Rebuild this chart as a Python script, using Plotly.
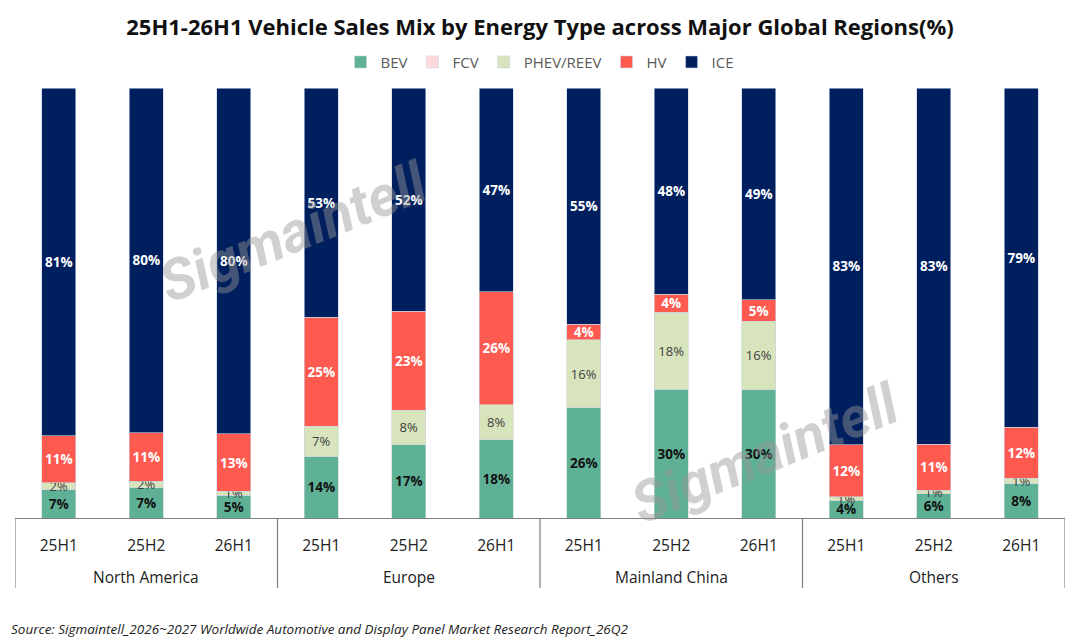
import plotly.graph_objects as go

# categories
regions = ["North America", "Europe", "Mainland China", "Others"]
periods = ["25H1", "25H2", "26H1"]

# share of sales (%) per region/period, in the order NA, Europe, China, Others
bev = [6.6, 7.0, 5.3, 14.3, 17.0, 18.2, 25.6, 30.0, 29.8, 4.0, 5.6, 8.0]
fcv = [0.0, 0.0, 0.0, 0.0, 0.0, 0.0, 0.0, 0.0, 0.0, 0.0, 0.0, 0.0]
phev = [1.6, 1.6, 0.9, 7.0, 8.1, 8.1, 15.8, 17.8, 16.0, 0.9, 0.9, 1.3]
hv = [10.9, 11.2, 13.4, 25.4, 23.0, 26.3, 3.7, 4.2, 4.9, 12.1, 10.6, 11.8]
ice = [80.9, 80.2, 80.4, 53.3, 51.9, 47.4, 54.9, 48.0, 49.3, 83.0, 82.9, 78.9]

FONT = "Open Sans"
n_per = len(periods)
xs = list(range(len(regions) * n_per))
tick_text = [p for _ in regions for p in periods]

series = [
    ("BEV", bev, "#5FB196", "#111111", True, 13.5),
    ("FCV", fcv, "#FFD9D9", "#444444", False, 13.5),
    ("PHEV/REEV", phev, "#D8E4BC", "#404040", False, 13),
    ("HV", hv, "#FF5A50", "#FFFFFF", True, 13.5),
    ("ICE", ice, "#001F5F", "#FFFFFF", True, 13.5),
]

fig = go.Figure()
for name, vals, color, tcolor, bold, tsize in series:
    labels = [f"{v:.0f}%" if v > 0 else "" for v in vals]
    if bold:
        labels = [f"<b>{t}</b>" if t else "" for t in labels]
    fig.add_trace(go.Bar(
        x=xs,
        y=vals,
        name=name,
        marker=dict(color=color, line=dict(color="#C9D3E3", width=0.6)),
        text=labels,
        texttemplate="%{text}",
        textposition="inside",
        insidetextanchor="middle",
        constraintext="none",
        textangle=0,
        textfont=dict(color=tcolor, size=tsize, family=FONT),
        hoverinfo="skip",
    ))

# region labels and group dividers under the axis
for i, reg in enumerate(regions):
    fig.add_annotation(
        x=i * n_per + (n_per - 1) / 2, y=0, xref="x", yref="paper",
        yanchor="middle", yshift=-59, text=reg, showarrow=False,
        font=dict(size=15.5, color="#222222", family=FONT),
    )
for i in range(len(regions) + 1):
    fig.add_shape(
        type="line", xref="x", yref="paper",
        x0=i * n_per - 0.5, x1=i * n_per - 0.5, y0=0, y1=-70 / 430,
        line=dict(color="#7F7F7F", width=1.2),
    )

# watermark
for wx, wy in [(0.265, 0.665), (0.715, 0.15)]:
    fig.add_annotation(
        x=wx, y=wy, xref="paper", yref="paper",
        xanchor="center", yanchor="middle",
        text="<b><i>Sigmaintell</i></b>",
        showarrow=False, textangle=-22,
        font=dict(size=57, color="rgba(150,150,150,0.45)",
                  family="Roboto, sans-serif"),
    )

fig.add_annotation(
    x=0, y=0, xref="paper", yref="paper", xanchor="left", yanchor="middle",
    xshift=-6, yshift=-111,
    text="<i>Source: Sigmaintell_2026~2027 Worldwide Automotive and Display Panel Market Research Report_26Q2</i>",
    showarrow=False, font=dict(size=13.5, color="#222222", family=FONT),
)

fig.update_layout(
    width=1080, height=642,
    barmode="stack",
    bargap=0.61,
    plot_bgcolor="white",
    paper_bgcolor="white",
    margin=dict(l=15, r=15, t=88, b=124),
    title=dict(
        text="<b>25H1-26H1 Vehicle Sales Mix by Energy Type across Major Global Regions(%)</b>",
        x=0.5, xanchor="center", y=0.958, yanchor="middle",
        font=dict(size=22, color="#111111", family=FONT),
    ),
    legend=dict(
        orientation="h", x=0.5, xanchor="center", y=1.06, yanchor="middle",
        font=dict(size=15, color="#595959", family=FONT),
        traceorder="normal", itemwidth=30,
    ),
    font=dict(family=FONT),
    showlegend=True,
)
fig.update_xaxes(
    range=[-0.5, len(xs) - 0.5],
    tickmode="array", tickvals=xs, ticktext=tick_text,
    showline=True, linecolor="#7F7F7F", linewidth=1.2,
    showgrid=False, zeroline=False,
    tickfont=dict(size=15.5, color="#222222", family=FONT),
    ticks="", ticklabelstandoff=13,
)
fig.update_yaxes(range=[0, 100], visible=False, showgrid=False)

fig.write_html("out.html", config={"displayModeBar": False},
               post_script="document.body.style.margin='0px';")
